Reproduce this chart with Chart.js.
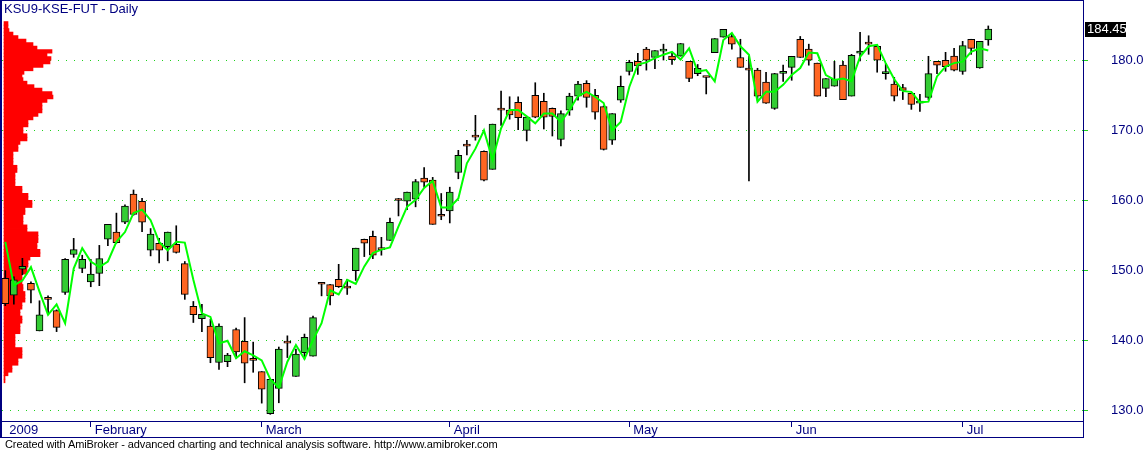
<!DOCTYPE html>
<html>
<head>
<meta charset="utf-8">
<title>KSU9-KSE-FUT - Daily</title>
<script src="https://cdn.jsdelivr.net/npm/chart.js@4.4.0/dist/chart.umd.min.js"></script>
<style>
  html, body { margin: 0; padding: 0; background: #fff; }
  #wrap { position: relative; width: 1144px; height: 451px; overflow: hidden; }
  #title { position: absolute; left: 4px; top: 1px; font: 13px "Liberation Sans", Arial, sans-serif; color: #000080; }
  #footer { position: absolute; left: 5px; top: 438px; font: 11px "Liberation Sans", Arial, sans-serif; letter-spacing: -0.1px; color: #000; white-space: nowrap; }
</style>
</head>
<body>
<div id="wrap">
  <canvas id="chart" width="1144" height="451"></canvas>
  <div id="title">KSU9-KSE-FUT - Daily</div>
  <div id="footer">Created with AmiBroker - advanced charting and technical analysis software. http://www.amibroker.com</div>
</div>
<script>
// daily OHLC (one entry per trading day)
const opens = [148.9,146.5,150.2,148.2,141.4,146.0,144.3,146.9,152.3,150.3,
  148.4,149.6,154.5,155.5,156.9,160.9,159.9,152.9,153.9,153.4,
  153.75,151.0,144.9,143.14,142.1,136.9,137.0,141.6,139.9,137.3,
  135.6,129.6,133.2,139.75,134.9,138.3,137.8,148.1,148.0,148.76,
  147.8,150.0,154.46,154.9,153.1,154.3,160.1,159.9,160.2,163.2,
  162.9,157.85,158.5,164.0,167.85,169.15,167.0,164.45,173.0,172.9,
  174.0,170.0,175.0,174.15,173.15,168.7,172.9,174.9,176.7,175.0,
  173.4,168.6,174.3,178.4,179.85,181.6,180.4,181.3,180.6,180.6,
  179.85,178.1,177.6,181.1,183.3,183.4,180.4,178.7,178.6,176.9,
  173.15,178.14,179.0,183.0,181.6,179.6,176.0,176.3,179.3,174.9,
  181.0,182.6,182.0,178.1,176.6,176.1,175.3,173.9,174.7,179.85,
  180.0,180.6,178.4,183.0,178.9,182.9];
const highs = [150.0,149.1,151.75,148.4,145.7,146.4,144.4,151.7,154.6,152.2,
  151.6,153.6,156.6,158.2,159.4,161.5,160.3,156.0,154.6,155.5,
  156.4,151.3,145.6,145.2,143.05,142.4,138.2,141.8,143.3,139.8,
  135.6,134.5,139.1,140.7,138.8,140.95,143.5,148.15,148.05,150.9,
  148.76,153.2,154.5,155.65,154.75,157.5,160.3,161.2,163.0,164.7,
  163.3,161.0,161.9,167.16,168.6,172.15,167.1,170.9,175.6,174.8,
  174.8,171.9,176.8,175.3,173.2,172.8,175.3,177.0,177.1,175.86,
  173.5,172.4,177.75,180.0,181.0,181.85,181.4,182.3,181.0,182.4,
  179.85,179.4,177.6,183.1,184.4,183.85,183.0,180.57,178.86,178.3,
  178.14,179.3,180.57,183.4,182.3,179.6,177.4,179.85,179.85,180.85,
  184.0,183.5,182.0,179.57,177.57,176.57,175.3,175.15,180.57,179.85,
  181.14,181.7,182.7,183.0,182.7,184.9];
const lows = [145.0,145.2,149.4,145.4,141.4,143.9,141.3,146.6,151.9,149.7,
  147.7,147.85,153.55,153.9,156.7,157.9,155.55,152.1,151.1,151.4,
  152.5,145.9,142.6,141.3,136.86,135.9,136.3,137.5,134.0,135.5,
  131.1,129.5,131.15,137.6,134.9,137.4,137.8,146.4,145.1,147.6,
  146.6,148.6,152.0,151.7,152.2,154.3,157.8,158.7,159.1,161.9,
  156.6,157.26,156.8,163.1,166.5,168.6,162.8,164.45,170.7,171.6,
  170.1,168.5,171.8,170.2,169.2,167.8,172.15,174.3,173.3,171.6,
  167.2,168.0,174.0,177.9,178.0,178.6,178.8,180.04,179.4,180.6,
  176.95,177.8,175.2,181.1,183.3,181.57,179.0,162.8,174.3,173.86,
  173.0,177.0,177.15,180.4,179.3,174.9,174.8,176.3,174.4,174.9,
  179.9,180.85,178.3,177.3,174.2,174.4,173.0,172.7,174.4,178.1,
  178.43,178.5,178.0,180.85,178.86,182.14];
const closes = [145.3,148.7,150.6,147.2,143.7,145.9,141.9,151.6,153.0,151.6,
  149.5,151.7,156.6,154.0,159.2,158.0,156.9,155.2,152.9,155.5,
  152.6,146.6,143.7,143.77,137.6,142.1,137.96,138.4,136.8,137.2,
  133.1,134.5,138.8,139.65,138.1,140.5,143.3,148.05,146.4,147.7,
  147.5,153.2,153.9,152.2,153.0,156.9,160.0,161.2,162.7,162.6,
  156.6,157.75,161.2,166.45,167.75,169.05,162.9,170.9,172.9,172.2,
  171.8,171.9,171.9,171.9,172.0,172.4,174.9,176.6,174.7,172.6,
  167.3,172.4,176.3,179.7,179.2,180.0,181.4,181.6,180.1,182.4,
  177.4,178.85,177.55,183.1,184.4,182.3,179.0,178.6,174.9,173.9,
  178.1,178.43,180.57,180.4,180.0,174.9,177.4,177.3,174.4,180.7,
  181.3,182.3,180.0,178.4,174.9,175.7,173.7,174.15,178.1,179.3,
  179.1,178.6,182.1,181.7,182.7,184.45];

// the green average line, read point by point
const avgLine = [154.1,147.9,148.6,150.5,147.0,143.7,145.2,142.5,150.3,153.2,
  151.3,150.5,151.3,154.1,155.5,158.2,158.7,157.2,154.1,152.9,
  154.1,154.0,148.7,143.9,143.4,139.6,140.0,137.5,138.5,137.9,
  137.2,134.5,133.3,137.0,139.4,137.4,140.1,142.5,147.2,146.6,
  148.7,148.1,150.6,152.5,153.0,153.3,156.3,159.1,160.1,161.8,
  162.8,159.0,159.0,160.3,165.3,167.4,170.0,165.8,170.3,172.9,
  172.9,172.0,171.0,172.4,172.4,171.2,172.9,174.9,175.5,174.8,
  173.9,170.0,171.2,176.2,179.4,179.7,180.3,180.8,181.2,180.1,
  181.7,178.4,178.6,177.0,182.9,183.9,182.0,180.8,174.1,175.5,
  175.5,176.5,177.9,178.9,181.1,181.0,177.9,177.2,177.4,177.0,
  180.5,182.0,182.2,179.6,177.3,175.6,175.5,174.0,174.1,177.7,
  179.1,179.6,179.8,181.2,181.7,181.4];

// volume-at-price profile on the left edge (price level, bar length)
const profilePrices = [185.0,184.5,184.0,183.5,183.0,182.5,182.0,181.5,181.0,180.5,
  180.0,179.5,179.0,178.5,178.0,177.5,177.0,176.5,176.0,175.5,
  175.0,174.5,174.0,173.5,173.0,172.5,172.0,171.5,171.0,170.5,
  170.0,169.5,169.0,168.5,168.0,167.5,167.0,166.5,166.0,165.5,
  165.0,164.5,164.0,163.5,163.0,162.5,162.0,161.5,161.0,160.5,
  160.0,159.5,159.0,158.5,158.0,157.5,157.0,156.5,156.0,155.5,
  155.0,154.5,154.0,153.5,153.0,152.5,152.0,151.5,151.0,150.5,
  150.0,149.5,149.0,148.5,148.0,147.5,147.0,146.5,146.0,145.5,
  145.0,144.5,144.0,143.5,143.0,142.5,142.0,141.5,141.0,140.5,
  140.0,139.5,139.0,138.5,138.0,137.5,137.0,136.5,136.0,135.5,
  135.0,134.5,134.0];
const profileVolume = [4,4,5,9,14,22,29,33,48,43,
  47,46,39,29,20,18,19,23,30,38,
  48,49,43,38,38,38,34,29,24,24,
  19,19,23,23,16,14,14,9,9,9,
  9,13,13,11,11,11,11,18,18,24,
  24,28,28,21,21,19,19,19,23,23,
  34,34,34,33,33,36,36,26,24,24,
  23,23,18,18,18,19,19,21,21,21,
  18,18,16,16,18,18,16,16,16,11,
  11,11,11,18,18,18,14,14,8,8,
  4,1,1];

// axis labels
const monthLabels = ['2009', 'February', 'March', 'April', 'May', 'Jun', 'Jul'];
const monthStarts = [0, 10, 30, 52, 73, 92, 112];
const priceTicks = [130, 140, 150, 160, 170, 180];

const navy = '#000080';
const gridGreen = '#1ed21e';
const upColor = '#33cc33';
const downColor = '#ff6622';
const font = '"Liberation Sans", Arial, sans-serif';

Chart.defaults.font.family = font;

const yMin = 128.55, yMax = 188.6;

// frame lines and the last-price tag
const framePlugin = {
  id: 'frame',
  afterDraw(chart) {
    const { ctx, chartArea: a } = chart;
    const bottom = a.bottom + 17;
    ctx.save();
    ctx.fillStyle = navy;
    ctx.fillRect(0, 0, 2, bottom);
    ctx.fillRect(0, 0, a.right + 1, 1);
    ctx.fillRect(a.right, 0, 1, bottom);
    ctx.fillRect(0, a.bottom, a.right + 1, 1);
    ctx.fillRect(0, bottom - 1, a.right + 1, 1);

    const last = closes[closes.length - 1];
    const y = Math.round(chart.scales.y.getPixelForValue(last));
    ctx.fillStyle = '#000';
    ctx.fillRect(a.right + 2, y - 7, 41, 15);
    ctx.fillStyle = '#fff';
    ctx.font = '13px ' + font;
    ctx.textBaseline = 'middle';
    ctx.fillText(last.toFixed(2), a.right + 4, y + 0.5);
    ctx.restore();
  }
};

const noPad = axis => {
  axis.paddingTop = 0;
  axis.paddingBottom = 0;
  axis.paddingLeft = 0;
  axis.paddingRight = 0;
};

const ctx = document.getElementById('chart').getContext('2d');
new Chart(ctx, {
  type: 'bar',
  data: {
    datasets: [
      {
        type: 'bar',
        label: 'Volume at price',
        indexAxis: 'y',
        xAxisID: 'xv',
        yAxisID: 'yv',
        data: profilePrices.map((p, i) => ({ x: profileVolume[i], y: p })),
        backgroundColor: '#ff0000',
        borderWidth: 0,
        barThickness: 3.7,
        order: 5
      },
      {
        type: 'bar',
        label: 'High-Low',
        xAxisID: 'x',
        yAxisID: 'y',
        data: lows.map((l, i) => ({ x: i, y: [l, highs[i]] })),
        backgroundColor: '#000',
        borderWidth: 0,
        barThickness: 1,
        grouped: false,
        order: 4
      },
      {
        type: 'bar',
        label: 'Open-Close',
        xAxisID: 'x',
        yAxisID: 'y',
        data: opens.map((o, i) => ({ x: i, y: [o, closes[i]] })),
        backgroundColor: c => closes[c.dataIndex] >= opens[c.dataIndex] ? upColor : downColor,
        borderColor: '#000',
        borderWidth: 1,
        borderSkipped: false,
        barThickness: 7,
        minBarLength: 2,
        grouped: false,
        order: 3
      },
      {
        type: 'line',
        label: 'Average',
        xAxisID: 'x',
        yAxisID: 'y',
        data: avgLine.map((v, i) => ({ x: i, y: v })),
        borderColor: '#00ff00',
        borderWidth: 2,
        pointRadius: 0,
        tension: 0,
        order: 1
      }
    ]
  },
  options: {
    responsive: false,
    animation: false,
    devicePixelRatio: 1,
    layout: { padding: { left: 2, right: 0, top: 0, bottom: 0 } },
    plugins: {
      legend: { display: false },
      tooltip: { enabled: false }
    },
    scales: {
      x: {
        type: 'linear',
        position: 'bottom',
        offset: false,
        min: -0.386,
        max: 126.08,
        afterBuildTicks: axis => { axis.ticks = monthStarts.map(v => ({ value: v })); },
        afterFit: axis => { axis.height = 30; noPad(axis); },
        ticks: {
          callback: (v, i) => monthLabels[i],
          align: 'start',
          labelOffset: 4,
          padding: -4,
          color: navy,
          font: { size: 13 },
          maxRotation: 0,
          autoSkip: false
        },
        grid: {
          offset: false,
          drawOnChartArea: false,
          drawTicks: true,
          tickLength: 6,
          color: navy,
          tickColor: c => c.index === 0 ? 'rgba(0,0,0,0)' : navy
        },
        border: { display: false }
      },
      y: {
        type: 'linear',
        position: 'right',
        offset: false,
        min: yMin,
        max: yMax,
        afterBuildTicks: axis => { axis.ticks = priceTicks.map(v => ({ value: v })); },
        afterFit: axis => { axis.width = 61; noPad(axis); },
        ticks: {
          callback: v => v.toFixed(1),
          padding: 23,
          color: navy,
          font: { size: 13 }
        },
        grid: {
          offset: false,
          color: gridGreen,
          lineWidth: 1,
          tickLength: 5,
          tickColor: gridGreen,
          borderDash: [1, 7]
        },
        border: { display: false, dash: [1, 7] }
      },
      xv: { type: 'linear', axis: 'x', display: false, offset: false, min: -2, max: 1079 },
      yv: { type: 'linear', axis: 'y', display: false, offset: false, min: yMin, max: yMax, grid: { offset: false } }
    }
  },
  plugins: [framePlugin]
});
</script>
</body>
</html>
